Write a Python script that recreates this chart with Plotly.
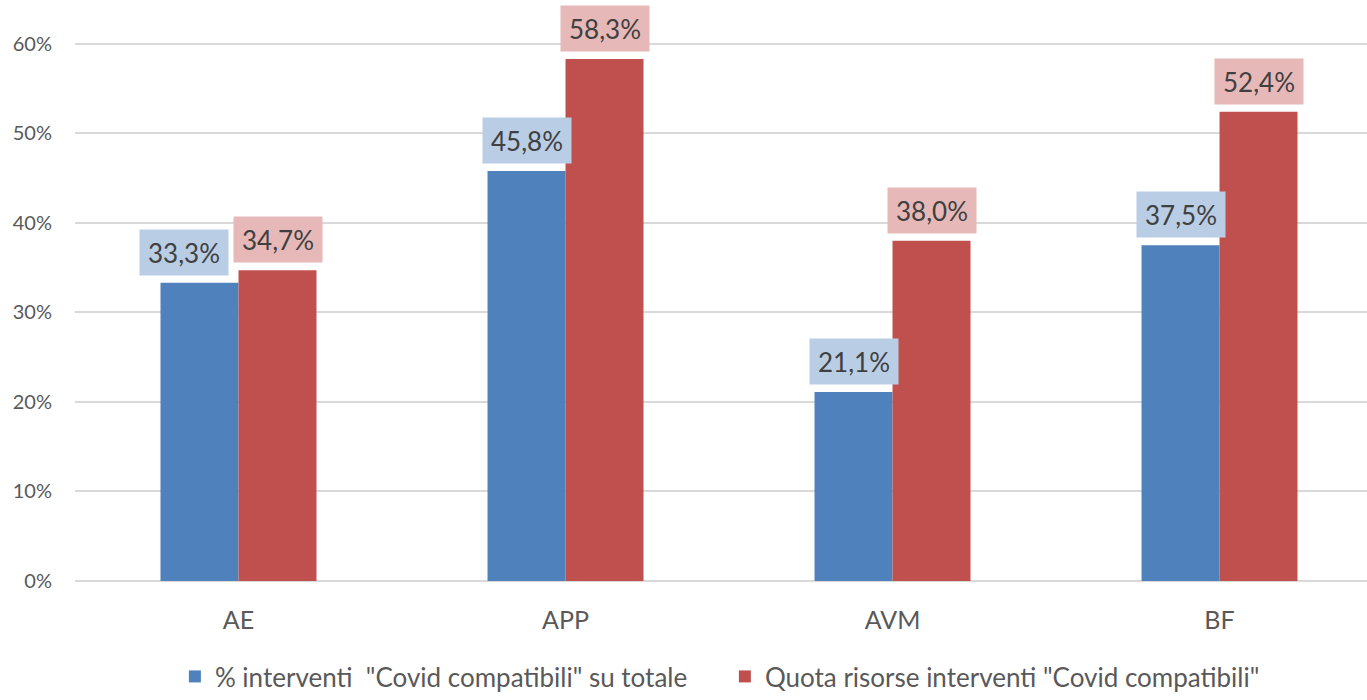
import plotly.graph_objects as go

categories = ["AE", "APP", "AVM", "BF"]
series1_name = '% interventi  "Covid compatibili" su totale'
series2_name = 'Quota risorse interventi "Covid compatibili"'
series1 = [0.333, 0.458, 0.211, 0.375]
series2 = [0.347, 0.583, 0.380, 0.524]

c1, c2 = "#4F81BD", "#C0504D"
bg1, bg2 = "#B9CDE5", "#E6B9B8"
FONT = "Lato"

fig = go.Figure()
fig.add_bar(x=list(range(len(categories))), y=series1, name=series1_name,
            marker=dict(color=c1, line=dict(width=0)))
fig.add_bar(x=list(range(len(categories))), y=series2, name=series2_name,
            marker=dict(color=c2, line=dict(width=0)))

bargap = 0.523
half = (1 - bargap) / 4

def fmt(v):
    return f"{v*100:.1f}%".replace(".", ",")

ann = []
for i, (a, b) in enumerate(zip(series1, series2)):
    # shift blue label left if the two labels would overlap
    shift = -16 if abs(a - b) < 0.05 else 0
    ann.append(dict(x=i - half, y=a, xref="x", yref="y", text=fmt(a), showarrow=False,
                    yanchor="bottom", yshift=7, xshift=shift, width=86, height=43,
                    bgcolor=bg1, font=dict(family=FONT, size=26, color="#404040")))
    ann.append(dict(x=i + half, y=b, xref="x", yref="y", text=fmt(b), showarrow=False,
                    yanchor="bottom", yshift=7, width=86, height=43,
                    bgcolor=bg2, font=dict(family=FONT, size=26, color="#404040")))

fig.update_layout(
    width=1367, height=700,
    margin=dict(l=75, r=0, t=8, b=119, autoexpand=False),
    plot_bgcolor="white", paper_bgcolor="white",
    barmode="group", bargap=bargap, bargroupgap=0,
    separators=",.",
    font=dict(family=FONT, color="#595959"),
    annotations=ann,
    xaxis=dict(tickmode="array", tickvals=list(range(len(categories))), ticktext=categories,
               range=[-0.5, 3.451], showgrid=False, zeroline=False, showline=False,
               tickfont=dict(size=25, color="#595959"), ticks="", ticklen=0,
               ticklabelstandoff=22, automargin=False),
    yaxis=dict(range=[0, 0.64], dtick=0.1, tickformat=".0%", showgrid=True,
               gridcolor="#D9D9D9", gridwidth=1.5, zeroline=True, zerolinecolor="#D9D9D9",
               zerolinewidth=1.5, showline=False, ticks="", ticklabelstandoff=22,
               tickfont=dict(size=20, color="#595959"), automargin=False),
    legend=dict(orientation="h", x=0.503, xanchor="center", y=-0.2077, yanchor="bottom",
                font=dict(size=26, color="#595959"), itemwidth=30, traceorder="normal",
                entrywidth=505),
    showlegend=True,
)

fig.write_html("out.html", post_script="document.body.style.margin='0';",
               config={"displayModeBar": False})
